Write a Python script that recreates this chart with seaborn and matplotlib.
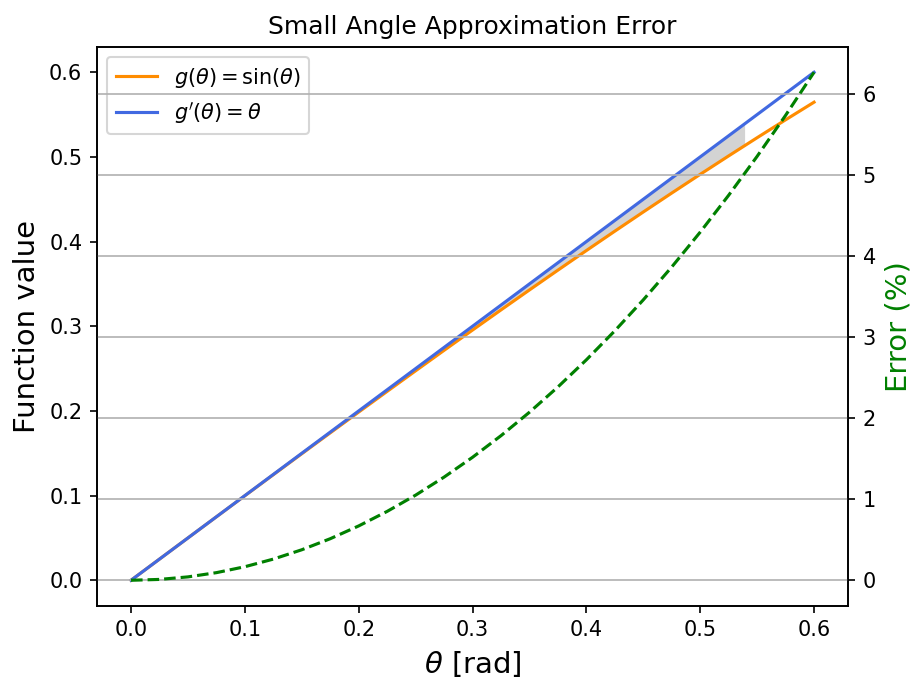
import matplotlib
matplotlib.use("Agg")
import matplotlib.pyplot as plt
import seaborn as sns
import numpy as np

# Data
theta = [0.0, 0.025, 0.05, 0.075, 0.1, 0.125, 0.15, 0.175, 0.2, 0.225, 0.25, 0.275,
         0.3, 0.325, 0.35, 0.375, 0.4, 0.425, 0.45, 0.475, 0.5, 0.525, 0.55, 0.575, 0.6]
sin_vals = [0.0, 0.024997, 0.049979, 0.074930, 0.099833, 0.124675, 0.149438, 0.174108,
            0.198669, 0.223106, 0.247404, 0.271547, 0.295520, 0.319310, 0.342898,
            0.366273, 0.389418, 0.412321, 0.434966, 0.457338, 0.479426, 0.501213,
            0.522687, 0.543835, 0.564642]
error_pct = [0.0, 0.0104, 0.0417, 0.0938, 0.1669, 0.2609, 0.3760, 0.5122, 0.6698,
             0.8490, 1.0493, 1.2716, 1.5159, 1.7823, 2.0712, 2.3828, 2.7173, 3.0751,
             3.4564, 3.8618, 4.2914, 4.7459, 5.2255, 5.7306, 6.2620]
# shaded region (theta up to ~0.539, where error stays under 5 %)
fill_theta = [0.0, 0.025, 0.05, 0.075, 0.1, 0.125, 0.15, 0.175, 0.2, 0.225, 0.25, 0.275,
              0.3, 0.325, 0.35, 0.375, 0.4, 0.425, 0.45, 0.475, 0.5, 0.525, 0.539]
fill_sin = [0.0, 0.024997, 0.049979, 0.074930, 0.099833, 0.124675, 0.149438, 0.174108,
            0.198669, 0.223106, 0.247404, 0.271547, 0.295520, 0.319310, 0.342898,
            0.366273, 0.389418, 0.412321, 0.434966, 0.457338, 0.479426, 0.501213, 0.513278]

fig, ax = plt.subplots(figsize=(914 / 150, 679 / 150), dpi=150)
fig.subplots_adjust(left=0.106, right=0.928, top=0.931, bottom=0.108)

ax.fill_between(fill_theta, fill_sin, fill_theta, color="lightgray", linewidth=0)
sns.lineplot(x=theta, y=sin_vals, ax=ax, color="darkorange",
             label=r"$g(\theta) = \sin(\theta)$", linewidth=1.5)
sns.lineplot(x=theta, y=theta, ax=ax, color="royalblue",
             label=r"$g'(\theta) = \theta$", linewidth=1.5)
ax.set_xlabel(r"$\theta$ [rad]", fontsize=14)
ax.set_ylabel("Function value", fontsize=14)
ax.set_title("Small Angle Approximation Error", fontsize=12)
ax.legend(loc="upper left")

ax2 = ax.twinx()
sns.lineplot(x=theta, y=error_pct, ax=ax2, color="green", linestyle="--", linewidth=1.5)
ax2.set_ylabel("Error (%)", fontsize=14, color="green")
ax2.grid(True, axis="y")

fig.savefig("out.png", dpi=150)
